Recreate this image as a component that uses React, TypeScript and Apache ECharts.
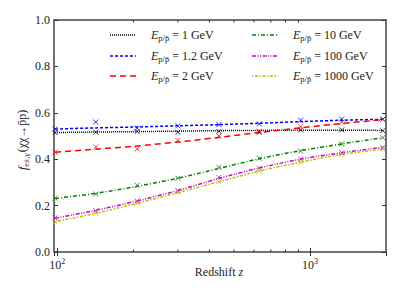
import React, { useEffect, useRef } from "react";
import * as echarts from "echarts";

const zPoints = [98, 142, 207, 300, 436, 630, 918, 1336, 1943];
const energyLabels = ["1", "1.2", "2", "10", "100", "1000"];
const lineColors = ["#000000", "#0000ff", "#ff0000", "#008000", "#cc00cc", "#bfbf00"];
const lineDashes: number[][] = [
  [1, 1],
  [3, 2],
  [6, 4],
  [4, 2, 1, 2],
  [4, 1.5, 1, 1.5, 1, 1.5],
  [1.5, 1.5, 3, 1.5],
];
// fitted curves
const fit1 = [0.515, 0.517, 0.519, 0.521, 0.523, 0.524, 0.525, 0.525, 0.524];
const fit12 = [0.53, 0.535, 0.539, 0.544, 0.549, 0.555, 0.562, 0.568, 0.572];
const fit2 = [0.43, 0.443, 0.457, 0.474, 0.494, 0.515, 0.535, 0.554, 0.57];
const fit10 = [0.231, 0.253, 0.283, 0.318, 0.36, 0.402, 0.437, 0.466, 0.493];
const fit100 = [0.146, 0.18, 0.22, 0.265, 0.317, 0.362, 0.4, 0.428, 0.451];
const fit1000 = [0.13, 0.167, 0.21, 0.256, 0.303, 0.349, 0.387, 0.421, 0.443];
// computed points (x markers)
const pts1 = [0.515, 0.516, 0.52, 0.516, 0.52, 0.516, 0.526, 0.526, 0.523];
const pts12 = [0.53, 0.56, 0.534, 0.544, 0.549, 0.552, 0.568, 0.573, 0.572];
const pts2 = [0.43, 0.453, 0.444, 0.481, 0.5, 0.521, 0.54, 0.56, 0.572];
const pts10 = [0.232, 0.25, 0.287, 0.318, 0.365, 0.404, 0.435, 0.466, 0.493];
const pts100 = [0.147, 0.178, 0.22, 0.264, 0.322, 0.361, 0.4, 0.428, 0.451];
const pts1000 = [0.13, 0.167, 0.211, 0.257, 0.302, 0.349, 0.387, 0.421, 0.443];
const minorTicks = [200, 300, 400, 500, 600, 700, 800, 900];

const fits = [fit1, fit12, fit2, fit10, fit100, fit1000];
const pts = [pts1, pts12, pts2, pts10, pts100, pts1000];

const FONT = "Liberation Serif";
const TXT = "#222";

export default function App() {
  const ref = useRef<HTMLDivElement>(null);
  useEffect(() => {
    if (!ref.current) return;
    const chart = echarts.init(ref.current, null, { renderer: "svg" });
    const series: any[] = [];
    fits.forEach((f, i) => {
      series.push({
        type: "line",
        data: zPoints.map((z, j) => [z, f[j]]),
        smooth: 0.3,
        showSymbol: false,
        symbol: "none",
        lineStyle: { color: lineColors[i], width: 1.5, type: lineDashes[i] },
        z: 3,
      });
      series.push({
        type: "scatter",
        data: zPoints.map((z, j) => [z, pts[i][j]]),
        symbol: "path://M0,0L10,10M0,10L10,0",
        symbolSize: 5,
        itemStyle: { color: "transparent", borderColor: lineColors[i], borderWidth: 1 },
        z: 4,
      });
    });
    series.push({
      type: "custom",
      data: minorTicks.map((v) => [v, 0]),
      renderItem: (params: any, api: any) => {
        const v = api.value(0);
        const b = api.coord([v, 0]);
        const t = api.coord([v, 1]);
        return {
          type: "group",
          children: [
            { type: "line", shape: { x1: b[0], y1: b[1], x2: b[0], y2: b[1] - 2.5 }, style: { stroke: "#333", lineWidth: 1 } },
            { type: "line", shape: { x1: t[0], y1: t[1], x2: t[0], y2: t[1] + 2.5 }, style: { stroke: "#333", lineWidth: 1 } },
          ],
        };
      },
      z: 5,
      silent: true,
    });

    const legendGraphics: any[] = [];
    const rows = [35, 56, 76];
    energyLabels.forEach((e, i) => {
      const col = i < 3 ? 0 : 1;
      const row = i % 3;
      const x0 = col === 0 ? 110 : 252;
      const tx = col === 0 ? 151 : 293;
      const y = rows[row];
      legendGraphics.push({
        type: "line",
        shape: { x1: x0, y1: y, x2: x0 + 26, y2: y },
        style: { stroke: lineColors[i], lineWidth: 1.5, lineDash: lineDashes[i] },
      });
      legendGraphics.push({
        type: "text",
        x: tx,
        y: y,
        style: {
          text: `{e|E}{s|p/p̄}{n| = ${e} GeV}`,
          verticalAlign: "middle",
          fill: TXT,
          fontFamily: FONT,
          rich: {
            e: { fontFamily: FONT, fontSize: 12, fontStyle: "italic", fill: TXT, lineHeight: 15, verticalAlign: "middle" },
            s: { fontFamily: FONT, fontSize: 8.5, fill: TXT, verticalAlign: "bottom", lineHeight: 15 },
            n: { fontFamily: FONT, fontSize: 12, fill: TXT, lineHeight: 15, verticalAlign: "middle" },
          },
        },
      });
    });

    chart.setOption({
      animation: false,
      textStyle: { fontFamily: FONT },
      grid: { left: 54, top: 20, right: 29, bottom: 39, show: true, borderColor: "#444", borderWidth: 1.5, backgroundColor: "transparent" },
      xAxis: [
        {
          type: "log",
          logBase: 10,
          min: 97,
          max: 2000,
          position: "bottom",
          axisLine: { show: false },
          splitLine: { show: false },
          axisTick: { inside: true, length: 4, lineStyle: { color: "#333", width: 1 } },
          axisLabel: {
            showMinLabel: false,
            showMaxLabel: false,
            margin: 5,
            fontFamily: FONT,
            formatter: (v: number) => `{b|10}{s|${Math.round(Math.log10(v))}}`,
            rich: {
              b: { fontFamily: FONT, fontSize: 12, color: TXT, lineHeight: 14, verticalAlign: "bottom" },
              s: { fontFamily: FONT, fontSize: 8, color: TXT, lineHeight: 14, verticalAlign: "top" },
            },
          },
        },
        {
          type: "log",
          logBase: 10,
          min: 97,
          max: 2000,
          position: "top",
          axisLine: { show: false },
          splitLine: { show: false },
          axisTick: { inside: true, length: 4, lineStyle: { color: "#333", width: 1 } },
          axisLabel: { show: false },
        },
      ],
      yAxis: [
        {
          type: "value",
          min: 0,
          max: 1,
          interval: 0.2,
          position: "left",
          axisLine: { show: false },
          splitLine: { show: false },
          axisTick: { inside: true, length: 4, lineStyle: { color: "#333", width: 1 } },
          axisLabel: {
            fontFamily: FONT,
            fontSize: 12,
            color: TXT,
            margin: 4,
            formatter: (v: number) => v.toFixed(1),
          },
        },
        {
          type: "value",
          min: 0,
          max: 1,
          interval: 0.2,
          position: "right",
          axisLine: { show: false },
          splitLine: { show: false },
          axisTick: { inside: true, length: 4, lineStyle: { color: "#333", width: 1 } },
          axisLabel: { show: false },
        },
      ],
      series,
      graphic: [
        ...legendGraphics,
        {
          type: "text",
          x: 219,
          y: 272,
          style: {
            text: "{n|Redshift }{i|z}",
            align: "center",
            verticalAlign: "middle",
            fontFamily: FONT,
            rich: {
              n: { fontFamily: FONT, fontSize: 12, fill: TXT },
              i: { fontFamily: FONT, fontSize: 12, fontStyle: "italic", fill: TXT },
            },
          },
        },
        {
          type: "text",
          x: 22,
          y: 140,
          rotation: Math.PI / 2,
          style: {
            text: "{f|f}{s|e±,γ}{n|(χχ→p̄p)}",
            align: "center",
            verticalAlign: "middle",
            fontFamily: FONT,
            rich: {
              f: { fontFamily: FONT, fontSize: 13, fontStyle: "italic", fill: TXT, lineHeight: 16, verticalAlign: "middle" },
              s: { fontFamily: FONT, fontSize: 8, fill: TXT, lineHeight: 16, verticalAlign: "bottom", padding: [0, 1, 0, 0] },
              n: { fontFamily: FONT, fontSize: 12, fill: TXT, lineHeight: 16, verticalAlign: "middle" },
            },
          },
        },
      ],
    });
    return () => chart.dispose();
  }, []);
  return <div ref={ref} style={{ width: 415, height: 291, margin: -8 }} />;
}
